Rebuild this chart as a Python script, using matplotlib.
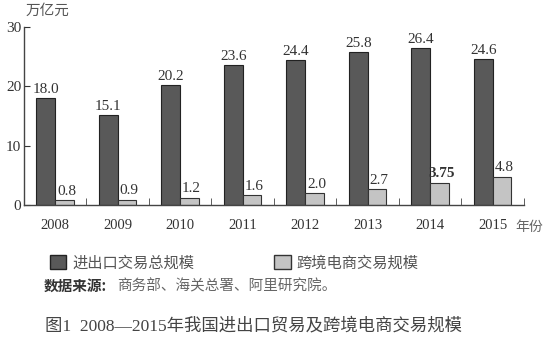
import numpy as np
import matplotlib
matplotlib.use("Agg")
import matplotlib.pyplot as plt
from matplotlib.patches import Patch

plt.rcParams['font.family'] = ['Liberation Serif', 'Noto Sans CJK SC', 'DejaVu Sans']

# data
years = ['2008', '2009', '2010', '2011', '2012', '2013', '2014', '2015']
total_trade = [18.0, 15.1, 20.2, 23.6, 24.4, 25.8, 26.4, 24.6]
cross_border = [0.8, 0.9, 1.2, 1.6, 2.0, 2.7, 3.75, 4.8]
total_labels = ['18.0', '15.1', '20.2', '23.6', '24.4', '25.8', '26.4', '24.6']
cross_labels = ['0.8', '0.9', '1.2', '1.6', '2.0', '2.7', '3.75', '4.8']
series_names = ['进出口交易总规模', '跨境电商交易规模']

dark = '#595959'
light = '#c4c4c4'
txt = '#333333'
cjk = ['Noto Sans CJK SC', 'DejaVu Sans']

fig = plt.figure(figsize=(5.5, 3.48), dpi=100)
ax = fig.add_axes([0.0436, 0.411, 0.909, 0.511])

x = np.arange(len(years)) + 0.5
w = 0.3
ax.bar(x - w / 2, total_trade, w, color=dark, edgecolor='#222222', linewidth=0.8)
ax.bar(x + w / 2, cross_border, w, color=light, edgecolor='#333333', linewidth=0.8)

for xi, v, s in zip(x, total_trade, total_labels):
    ax.text(xi - w / 2, v + 0.4, s, ha='center', va='bottom', fontsize=11, color=txt)
for xi, v, s in zip(x, cross_border, cross_labels):
    bold = 'bold' if s == '3.75' else 'normal'
    ax.text(xi + w / 2 + 0.03, v + 0.4, s, ha='center', va='bottom', fontsize=11,
            color=txt, fontweight=bold)

ax.set_xlim(0, len(years))
ax.set_ylim(0, 30)
ax.set_yticks([0, 10, 20, 30])
ax.tick_params(axis='y', direction='in', length=4, labelsize=11, colors=txt, pad=2)
ax.set_xticks(x)
ax.set_xticklabels(years, fontsize=10.5, color=txt)
ax.tick_params(axis='x', length=0, pad=10)
ax.set_xticks(np.arange(1, len(years) + 1), minor=True)
ax.tick_params(axis='x', which='minor', direction='in', length=5, color='#444444')
for sp in ['top', 'right']:
    ax.spines[sp].set_visible(False)
for sp in ['left', 'bottom']:
    ax.spines[sp].set_color('#444444')
    ax.spines[sp].set_linewidth(1.0)

fig.text(0.047, 0.968, '万亿元', fontsize=10.5, color='#555555', family=cjk,
         ha='left', va='center', style='italic')
fig.text(0.937, 0.347, '年份', fontsize=10, color='#666666', family=cjk,
         ha='left', va='center')

handles = [Patch(facecolor=dark, edgecolor='#222222'),
           Patch(facecolor=light, edgecolor='#333333')]
fig.legend(handles, series_names, loc='center left', bbox_to_anchor=(0.065, 0.245),
           ncol=2, frameon=False, handlelength=1.1, handleheight=1.1,
           handletextpad=0.4, columnspacing=5.2,
           prop={'family': cjk, 'size': 11}, labelcolor='#555555')

fig.text(0.08, 0.178, '数据来源:', fontsize=10.5, fontweight='bold', color='#333333',
         family=cjk, ha='left', va='center')
fig.text(0.213, 0.178, '商务部、海关总署、阿里研究院。', fontsize=10.5, color='#666666',
         family=cjk, ha='left', va='center')

fig.text(0.082, 0.062, '图1  2008—2015年我国进出口贸易及跨境电商交易规模', fontsize=12.5,
         color='#444444', family=['Liberation Serif', 'Noto Sans CJK SC', 'DejaVu Sans'],
         ha='left', va='center')

fig.savefig('out.png', dpi=100, facecolor='white')
